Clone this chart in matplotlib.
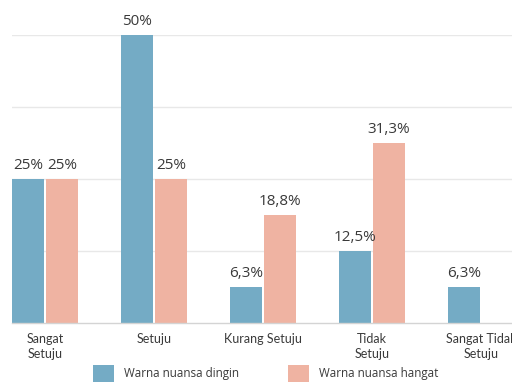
import matplotlib.pyplot as plt
import numpy as np

categories = ["Sangat\nSetuju", "Setuju", "Kurang Setuju", "Tidak\nSetuju", "Sangat Tidak\nSetuju"]
dingin = [25, 50, 6.3, 12.5, 6.3]
hangat = [25, 25, 18.8, 31.3, 0]
series_names = ["Warna nuansa dingin", "Warna nuansa hangat"]

BLUE = "#74abc5"
SALMON = "#efb3a2"
TEXT = "#3a3a3a"

W, H = 512, 383


def fmt(v):
    s = f"{v:g}".replace(".", ",")
    return s + "%"


def main():
    plt.rcParams["font.family"] = ["Open Sans", "DejaVu Sans"]
    fig = plt.figure(figsize=(W / 100, H / 100), dpi=100)
    # axes spans from the first bar edge to past the right border
    ax = fig.add_axes([12 / W, (H - 323) / H, (W - 12) / W, 288 / H])

    step = 109
    bw = 32 / step
    off = 17 / step
    x = np.arange(len(categories))
    b1 = ax.bar(x - off, dingin, width=bw, color=BLUE, label=series_names[0], zorder=2)
    b2 = ax.bar(x + off, hangat, width=bw, color=SALMON, label=series_names[1], zorder=2)

    for bars, vals in ((b1, dingin), (b2, hangat)):
        for rect, v in zip(bars, vals):
            if v <= 0:
                continue
            ax.annotate(fmt(v), (rect.get_x() + rect.get_width() / 2, v),
                        xytext=(0, 4), textcoords="offset points",
                        ha="center", va="bottom", fontsize=11, color=TEXT)

    ax.set_xlim(-33 / step, (W - 45) / step)
    ax.set_ylim(0, 50)
    ax.set_yticks([12.5, 25, 37.5, 50])
    ax.yaxis.grid(True, color="#e8e8e8", lw=1, zorder=0)
    ax.tick_params(axis="y", length=0, labelleft=False)
    ax.set_xticks(x)
    ax.set_xticklabels(categories, fontsize=9, color=TEXT, linespacing=1.3,
                       family=["Lato", "DejaVu Sans"])
    ax.tick_params(axis="x", length=0, pad=7)
    for s in ("top", "right", "left"):
        ax.spines[s].set_visible(False)
    ax.spines["bottom"].set_color("#d4d4d4")
    ax.spines["bottom"].set_linewidth(1)

    fig.legend(handles=[b1, b2], labels=series_names, loc="center left",
               bbox_to_anchor=(93 / W, 1 - 373.5 / H), ncol=2, frameon=False,
               fontsize=8.4, handlelength=1.8, handleheight=1.8,
               handletextpad=0.85, columnspacing=4.2, borderpad=0, borderaxespad=0,
               labelcolor=TEXT)

    fig.savefig("out.png", dpi=100)
    return fig


if __name__ == "__main__":
    main()
